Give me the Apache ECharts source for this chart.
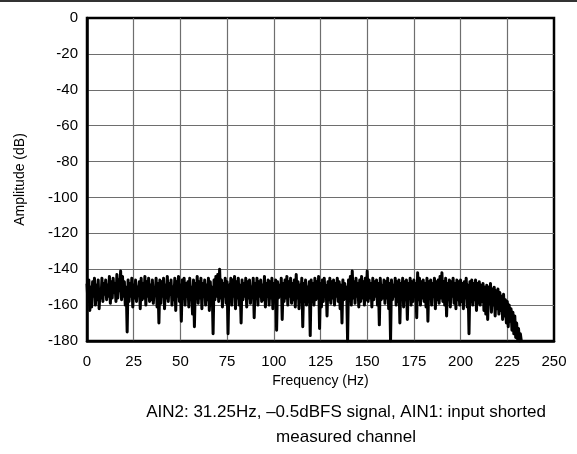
<!DOCTYPE html>
<html>
<head>
<meta charset="utf-8">
<script src="https://cdn.jsdelivr.net/npm/echarts@6/dist/echarts.min.js"></script>
<style>
html,body{margin:0;padding:0;background:#fff;}
#chart{width:577px;height:454px;}
</style>
</head>
<body>
<div id="chart"></div>
<script>
// Frequency step of the spectrum trace (Hz); first point at 0 Hz
const freqStepHz = 0.5;
// Amplitude (dB), 0 Hz .. 232.5 Hz every 0.5 Hz
const amplitudeDb = [
  // 0-10 Hz
  -148,-158,-146,-163,-150,-161,-147,-155,-145,-160,-149,-157,-146,-162,-151,-156,-145,-158,-148,-154,
  // 10-20
  -146,-157,-149,-155,-144,-159,-147,-156,-145,-153,-148,-158,-143,-156,-146,-152,-141,-157,-144,-155,
  // 20-30
  -147,-160,-150,-175,-146,-158,-148,-155,-145,-161,-149,-156,-146,-158,-150,-154,-147,-162,-145,-157,
  // 30-40
  -148,-156,-144,-160,-147,-155,-145,-158,-149,-157,-146,-159,-150,-154,-145,-161,-148,-170,-146,-159,
  // 40-50
  -147,-155,-145,-162,-149,-156,-144,-158,-148,-154,-146,-160,-150,-157,-145,-163,-147,-155,-144,-158,
  // 50-60
  -149,-169,-146,-156,-145,-160,-148,-155,-147,-161,-145,-157,-150,-165,-146,-172,-148,-156,-144,-159,
  // 60-70
  -147,-156,-145,-162,-148,-155,-146,-160,-149,-157,-145,-163,-147,-158,-150,-176,-146,-157,-144,-155,
  // 70-80
  -143,-158,-140,-156,-146,-161,-148,-155,-145,-159,-147,-176,-149,-157,-145,-160,-146,-155,-144,-162,
  // 80-90
  -147,-156,-145,-160,-149,-170,-146,-157,-148,-155,-145,-161,-147,-156,-146,-159,-150,-155,-145,-167,
  // 90-100
  -148,-156,-145,-160,-147,-155,-146,-158,-149,-157,-144,-161,-148,-155,-146,-160,-147,-156,-145,-162,
  // 100-110
  -148,-157,-146,-174,-147,-156,-149,-155,-145,-168,-148,-158,-146,-156,-144,-160,-147,-155,-145,-159,
  // 110-120
  -148,-157,-146,-161,-143,-156,-147,-162,-149,-155,-145,-172,-148,-158,-146,-160,-150,-156,-147,-177,
  // 120-130
  -146,-158,-148,-160,-145,-157,-147,-156,-144,-173,-148,-161,-146,-158,-145,-155,-149,-166,-147,-157,
  // 130-140
  -145,-159,-147,-156,-146,-160,-148,-155,-145,-158,-147,-162,-149,-170,-146,-157,-148,-156,-150,-180,
  // 140-150
  -146,-157,-144,-160,-141,-156,-147,-159,-145,-155,-148,-161,-146,-158,-144,-156,-147,-160,-145,-157,
  // 150-160
  -141,-158,-146,-156,-148,-161,-145,-157,-147,-155,-146,-160,-148,-171,-145,-157,-149,-156,-146,-159,
  // 160-170
  -147,-156,-145,-162,-148,-180,-146,-157,-149,-155,-145,-160,-147,-158,-146,-170,-148,-156,-145,-161,
  // 170-180
  -147,-157,-146,-168,-148,-156,-145,-160,-147,-158,-146,-155,-148,-167,-142,-157,-145,-160,-147,-156,
  // 180-190
  -146,-158,-148,-161,-145,-169,-147,-156,-146,-160,-148,-155,-145,-162,-147,-157,-146,-159,-144,-156,
  // 190-200
  -142,-158,-147,-160,-145,-166,-148,-157,-146,-161,-147,-155,-145,-159,-148,-162,-146,-157,-147,-160,
  // 200-210
  -146,-158,-148,-162,-147,-156,-145,-161,-149,-176,-147,-158,-146,-160,-148,-157,-146,-163,-148,-159,
  // 210-220
  -147,-160,-149,-158,-148,-163,-150,-165,-149,-168,-150,-159,-148,-164,-151,-160,-150,-166,-152,-162,
  // 220-230
  -151,-165,-153,-163,-155,-168,-154,-166,-157,-170,-158,-172,-160,-169,-162,-174,-164,-176,-166,-178,
  // 230-232.5
  -170,-179,-173,-180,-176,-180
];
const xTicks = [0, 25, 50, 75, 100, 125, 150, 175, 200, 225, 250];
const yTicks = [0, -20, -40, -60, -80, -100, -120, -140, -160, -180];
const xAxisTitle = 'Frequency (Hz)';
const yAxisTitle = 'Amplitude (dB)';
const captionLines = ['AIN2: 31.25Hz, \u20130.5dBFS signal, AIN1: input shorted', 'measured channel'];

const seriesData = amplitudeDb.map((v, i) => [i * freqStepHz, v]);
const FONT = '"Liberation Sans", Arial, sans-serif';

const chart = echarts.init(document.getElementById('chart'), null, {renderer: 'canvas'});
chart.setOption({
  animation: false,
  backgroundColor: '#ffffff',
  grid: {
    left: 87, top: 18, width: 467, height: 323,
    show: true, borderColor: '#000', borderWidth: 2.5, backgroundColor: 'transparent'
  },
  xAxis: {
    type: 'value',
    min: xTicks[0], max: xTicks[xTicks.length - 1], interval: xTicks[1] - xTicks[0],
    name: xAxisTitle, nameLocation: 'middle', nameGap: 32,
    nameTextStyle: {fontFamily: FONT, fontSize: 14, color: '#000'},
    axisLine: {show: true, onZero: false, lineStyle: {color: '#000', width: 2.5}},
    axisTick: {show: false},
    axisLabel: {fontFamily: FONT, fontSize: 15, color: '#000', margin: 13},
    splitLine: {show: true, showMinLine: false, showMaxLine: false, lineStyle: {color: '#6e6e6e', width: 1.2}}
  },
  yAxis: {
    type: 'value',
    min: yTicks[yTicks.length - 1], max: yTicks[0], interval: yTicks[0] - yTicks[1],
    name: yAxisTitle, nameLocation: 'middle', nameGap: 60, nameRotate: 90,
    nameTextStyle: {fontFamily: FONT, fontSize: 14, color: '#000'},
    axisLine: {show: true, onZero: false, lineStyle: {color: '#000', width: 2.5}},
    axisTick: {show: false},
    axisLabel: {fontFamily: FONT, fontSize: 15, color: '#000', margin: 9},
    splitLine: {show: true, showMinLine: false, showMaxLine: false, lineStyle: {color: '#6e6e6e', width: 1.2}}
  },
  series: [{
    type: 'line',
    data: seriesData,
    showSymbol: false,
    clip: true,
    lineStyle: {color: '#000', width: 3, join: 'round'},
    z: 3
  }],
  graphic: [
    {type: 'line', shape: {x1: 0, y1: 1, x2: 577, y2: 1}, style: {stroke: '#333', lineWidth: 2}},
    {type: 'text', position: [346, 412], style: {text: captionLines[0], font: '17px ' + FONT, fill: '#000', textAlign: 'center', textVerticalAlign: 'middle'}},
    {type: 'text', position: [346, 437], style: {text: captionLines[1], font: '17px ' + FONT, fill: '#000', textAlign: 'center', textVerticalAlign: 'middle'}}
  ]
});
</script>
</body>
</html>
